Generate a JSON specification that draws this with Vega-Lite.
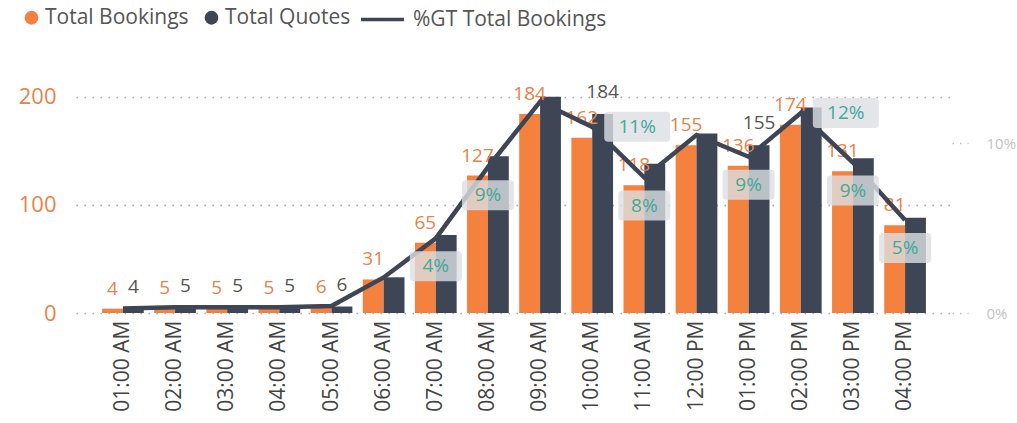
{
  "$schema": "https://vega.github.io/schema/vega-lite/v6.json",
  "autosize": {"type": "none"},
  "width": 876,
  "height": 238,
  "padding": {"left": 76, "top": 75, "right": 65, "bottom": 110},
  "background": "white",
  "config": {
    "view": {"stroke": null},
    "font": "Open Sans",
    "text": {"font": "Open Sans"}
  },
  "data": {
    "values": [
      {"hour": "01:00 AM", "Total Bookings": 4, "Total Quotes": 4, "pct": 0.0027},
      {"hour": "02:00 AM", "Total Bookings": 5, "Total Quotes": 5, "pct": 0.0034},
      {"hour": "03:00 AM", "Total Bookings": 5, "Total Quotes": 5, "pct": 0.0034},
      {"hour": "04:00 AM", "Total Bookings": 5, "Total Quotes": 5, "pct": 0.0034},
      {"hour": "05:00 AM", "Total Bookings": 6, "Total Quotes": 6, "pct": 0.0041},
      {"hour": "06:00 AM", "Total Bookings": 31, "Total Quotes": 33, "pct": 0.0209},
      {"hour": "07:00 AM", "Total Bookings": 65, "Total Quotes": 72, "pct": 0.0439},
      {"hour": "08:00 AM", "Total Bookings": 127, "Total Quotes": 145, "pct": 0.0858},
      {"hour": "09:00 AM", "Total Bookings": 184, "Total Quotes": 200, "pct": 0.1243},
      {"hour": "10:00 AM", "Total Bookings": 162, "Total Quotes": 184, "pct": 0.1095},
      {"hour": "11:00 AM", "Total Bookings": 118, "Total Quotes": 138, "pct": 0.0797},
      {"hour": "12:00 PM", "Total Bookings": 155, "Total Quotes": 166, "pct": 0.1047},
      {"hour": "01:00 PM", "Total Bookings": 136, "Total Quotes": 155, "pct": 0.0919},
      {"hour": "02:00 PM", "Total Bookings": 174, "Total Quotes": 190, "pct": 0.1176},
      {"hour": "03:00 PM", "Total Bookings": 131, "Total Quotes": 143, "pct": 0.0885},
      {"hour": "04:00 PM", "Total Bookings": 81, "Total Quotes": 88, "pct": 0.0547}
    ]
  },
  "encoding": {
    "x": {
      "field": "hour", "type": "nominal", "sort": null,
      "scale": {"paddingInner": 0.2, "paddingOuter": 0.5},
      "axis": {
        "title": null, "labelAngle": -90, "labelFontSize": 21, "labelColor": "#444444",
        "labelFont": "Open Sans", "labelPadding": 7, "ticks": false, "domain": false, "grid": false
      }
    }
  },
  "layer": [
    {
      "transform": [{"fold": ["Total Bookings", "Total Quotes"], "as": ["series", "value"]}],
      "encoding": {
        "y": {
          "field": "value", "type": "quantitative",
          "scale": {"domain": [0, 220]},
          "axis": {
            "title": null, "values": [0, 100, 200], "labelFontSize": 22, "labelColor": "#E8834A",
            "labelFont": "Open Sans", "labelPadding": 20, "ticks": false, "domain": false,
            "grid": true, "gridDash": [1.5, 6.5], "gridColor": "#a8a8a8", "gridWidth": 1.3
          }
        },
        "xOffset": {"field": "series", "type": "nominal", "sort": ["Total Bookings", "Total Quotes"], "scale": {"paddingInner": 0, "paddingOuter": 0}}
      },
      "layer": [
        {
          "mark": {"type": "bar"},
          "encoding": {
            "fill": {
              "field": "series", "type": "nominal",
              "scale": {"domain": ["Total Bookings", "Total Quotes"], "range": ["#F5813E", "#3E4655"]},
              "legend": {
                "orient": "none", "legendX": -55, "legendY": -68, "direction": "horizontal",
                "title": null, "symbolType": "circle", "symbolSize": 190, "symbolStrokeWidth": 0,
                "labelFontSize": 21, "labelFont": "Open Sans", "labelColor": "#555555", "labelLimit": 0,
                "labelOffset": 3, "columnPadding": 12, "padding": 0
              }
            }
          }
        },
        {
          "transform": [{"filter": "datum.series === 'Total Bookings'"}],
          "mark": {"type": "text", "fontSize": 19, "color": "#E8834A", "baseline": "alphabetic", "dy": -14},
          "encoding": {"text": {"field": "value", "type": "quantitative", "format": "d"}}
        },
        {
          "transform": [
            {"filter": "datum.series === 'Total Quotes'"},
            {"filter": {"field": "hour", "oneOf": ["01:00 AM", "02:00 AM", "03:00 AM", "04:00 AM", "05:00 AM", "10:00 AM", "01:00 PM"]}}
          ],
          "mark": {"type": "text", "fontSize": 19, "color": "#555555", "baseline": "alphabetic", "dy": -16},
          "encoding": {"text": {"field": "value", "type": "quantitative", "format": "d"}}
        }
      ]
    },
    {
      "encoding": {
        "y": {
          "field": "pct", "type": "quantitative",
          "scale": {"domain": [0, 0.14]},
          "axis": {
            "orient": "right", "title": null, "values": [0, 0.1], "format": ".0%",
            "labelFontSize": 15, "labelColor": "#c4c4c4", "labelFont": "Open Sans",
            "labelPadding": 18, "ticks": true, "tickSize": 16, "tickColor": "#c0c0c0",
            "tickDash": [1.5, 6], "tickWidth": 1.3, "domain": false, "grid": false
          }
        }
      },
      "layer": [
        {
          "mark": {"type": "line", "strokeWidth": 4.5, "strokeJoin": "miter"},
          "encoding": {
            "stroke": {
              "datum": "%GT Total Bookings",
              "scale": {"range": ["#3E4655"]},
              "legend": {
                "orient": "none", "legendX": 283, "legendY": -79, "title": null,
                "symbolType": "stroke", "symbolSize": 1849, "symbolStrokeWidth": 3.5,
                "labelFontSize": 21, "labelFont": "Open Sans", "labelColor": "#555555", "labelLimit": 0,
                "labelOffset": 7, "padding": 0
              }
            }
          }
        },
        {
          "transform": [{"filter": {"field": "hour", "oneOf": ["07:00 AM", "08:00 AM", "11:00 AM", "01:00 PM", "03:00 PM", "04:00 PM"]}}],
          "mark": {
            "type": "point", "filled": true, "color": "#dcdfe3", "opacity": 0.8, "size": 2704, "yOffset": 28,
            "shape": "M-0.85,-0.577L0.85,-0.577Q1,-0.577 1,-0.42L1,0.42Q1,0.577 0.85,0.577L-0.85,0.577Q-1,0.577 -1,0.42L-1,-0.42Q-1,-0.577 -0.85,-0.577Z"
          }
        },
        {
          "transform": [{"filter": {"field": "hour", "oneOf": ["10:00 AM", "02:00 PM"]}}],
          "mark": {
            "type": "point", "filled": true, "color": "#dcdfe3", "opacity": 0.8, "size": 4356, "xOffset": 45,
            "shape": "M-0.88,-0.4545L0.88,-0.4545Q1,-0.4545 1,-0.33L1,0.33Q1,0.4545 0.88,0.4545L-0.88,0.4545Q-1,0.4545 -1,0.33L-1,-0.33Q-1,-0.4545 -0.88,-0.4545Z"
          }
        },
        {
          "transform": [{"filter": {"field": "hour", "oneOf": ["07:00 AM", "08:00 AM", "11:00 AM", "01:00 PM", "03:00 PM", "04:00 PM"]}}],
          "mark": {"type": "text", "fontSize": 19, "color": "#45A898", "baseline": "middle", "dy": 28},
          "encoding": {"text": {"field": "pct", "type": "quantitative", "format": ".0%"}}
        },
        {
          "transform": [{"filter": {"field": "hour", "oneOf": ["10:00 AM", "02:00 PM"]}}],
          "mark": {"type": "text", "fontSize": 19, "color": "#45A898", "baseline": "middle", "dx": 45},
          "encoding": {"text": {"field": "pct", "type": "quantitative", "format": ".0%"}}
        }
      ]
    }
  ],
  "resolve": {"scale": {"y": "independent"}}
}
